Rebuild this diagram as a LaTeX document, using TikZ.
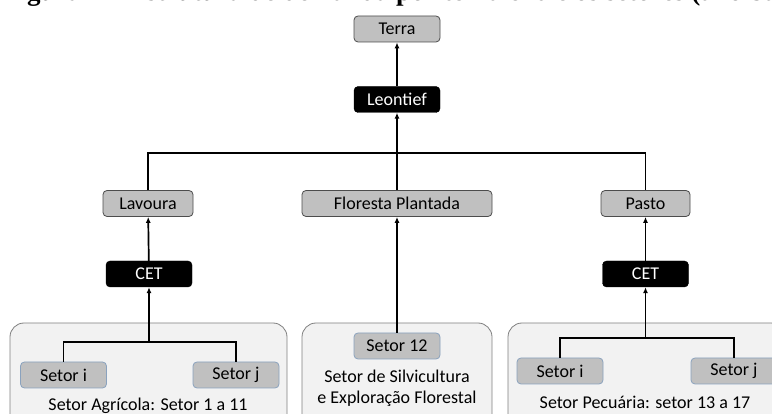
\documentclass[tikz,border=0pt]{standalone}
\usepackage{fontspec}
\setmainfont{Carlito}
\newfontfamily\capfont{Liberation Serif}
\usetikzlibrary{arrows.meta}

\definecolor{boxgray}{HTML}{C0C0C0}
\definecolor{groupfill}{HTML}{F2F2F2}
\definecolor{setorline}{HTML}{8AA2BE}

\tikzset{
  graybox/.style={draw=black!70, fill=boxgray, rounded corners=4pt, line width=0.8pt,
    minimum height=26pt, inner sep=0pt, font=\fontsize{18}{21}\selectfont},
  blackbox/.style={draw=black, fill=black, text=white, rounded corners=4pt,
    minimum width=86pt, minimum height=26pt, inner sep=0pt, font=\fontsize{18}{21}\selectfont},
  setorbox/.style={draw=setorline, fill=boxgray, rounded corners=4pt, line width=0.8pt,
    minimum width=86pt, minimum height=26pt, inner sep=0pt, font=\fontsize{18}{21}\selectfont},
  groupbox/.style={draw=black!50, fill=groupfill, rounded corners=14pt, line width=0.8pt,
    minimum height=120pt, inner sep=0pt},
  lbl/.style={font=\fontsize{18}{21}\selectfont, inner sep=0pt},
  link/.style={line width=1.7pt},
  arr/.style={line width=1.7pt, -{Latex[length=6pt,width=5pt]}}
}

\begin{document}
\begin{tikzpicture}[x=1pt,y=-1pt]
\useasboundingbox (0,0) rectangle (772,414);
\clip (0,0) rectangle (772,414);

% caption, cut at the top
\node[anchor=base west, inner sep=0pt, font=\capfont\bfseries\fontsize{27}{30}\selectfont] (caption) at (3,1)
  {Figura 1 – Estrutura de demanda por terra entre os setores (ano base)};

% sector groups
\node[groupbox, minimum width=277pt] (agri) at (148.5,383) {};
\node[groupbox, minimum width=190pt] (silvi) at (397,383) {};
\node[groupbox, minimum width=277pt] (pecu) at (646.5,383) {};

% top of the tree
\node[graybox, minimum width=86pt] (terra) at (397,29) {Terra};
\node[blackbox] (leontief) at (397,99.5) {Leontief};
\coordinate (topjoin) at (397,153);

\node[graybox, minimum width=90pt] (lavoura) at (148,203.5) {Lavoura};
\node[graybox, minimum width=190pt] (floresta) at (397,203.5) {Floresta Plantada};
\node[graybox, minimum width=89pt] (pasto) at (645.5,203.5) {Pasto};

\node[blackbox] (cetl) at (149,274) {CET};
\node[blackbox] (cetr) at (645.5,274) {CET};

% sectors
\node[setorbox] (agrii) at (63.5,375) {Setor i};
\node[setorbox] (agrij) at (236,375) {Setor j};
\coordinate (agrijoin) at (149,342);
\node[lbl] (agrilbl) at (148,406) {Setor Agrícola: Setor 1 a 11};

\node[setorbox] (setor12) at (397,346) {Setor 12};
\node[lbl, align=center] (silvilbl) at (397,388) {Setor de Silvicultura\\e Exploração Florestal};

\node[setorbox] (pecui) at (560,371) {Setor i};
\node[setorbox] (pecuj) at (734,371) {Setor j};
\coordinate (pecujoin) at (645.5,338);
\node[lbl] (peculbl) at (645,402) {Setor Pecuária: setor 13 a 17};

% connectors
\draw[arr] (leontief) -- (terra);
\draw[link] (lavoura.north) |- (topjoin) -| (pasto.north);
\draw[link] (floresta.north) -- (topjoin);
\draw[arr] (topjoin) -- (leontief.south);

\draw[arr] (cetl) -- (lavoura);
\draw[link] (agrii.north) |- (agrijoin) -| (agrij.north);
\draw[arr] (agrijoin) -- (cetl.south);

\draw[arr] (setor12) -- (floresta);

\draw[arr] (cetr) -- (pasto);
\draw[link] (pecui.north) |- (pecujoin) -| (pecuj.north);
\draw[arr] (pecujoin) -- (cetr.south);
\end{tikzpicture}
\end{document}
